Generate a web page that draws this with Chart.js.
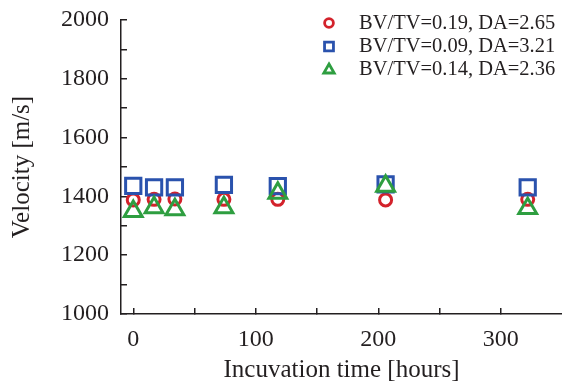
<!DOCTYPE html>
<html lang="en">
<head>
    <meta charset="UTF-8">
    <title>Velocity vs incubation time</title>
    <script src="https://cdn.jsdelivr.net/npm/chart.js"></script>
    <style>
        html, body { margin: 0; padding: 0; background: #fff; overflow: hidden; }
        #wrap { position: relative; width: 562px; height: 383px; }
        #chart { display: block; }
    </style>
</head>
<body>
    <div id="wrap"><canvas id="chart"></canvas></div>

    <script>
        // incubation times [hours]
        const hours = [0, 17, 34, 74, 118, 206, 322];
        const seriesLabels = ['BV/TV=0.19, DA=2.65', 'BV/TV=0.09, DA=3.21', 'BV/TV=0.14, DA=2.36'];
        // velocity [m/s]
        const redVel = [1388, 1390, 1391, 1390, 1390, 1388, 1390];
        const blueVel = [1436, 1431, 1431, 1439, 1435, 1441, 1431];
        const greenVel = [1349, 1362, 1355, 1362, 1411, 1435, 1359];
        // tick marks (every one) and the ones that carry a label
        const xTickMarks = [0, 50, 100, 150, 200, 250, 300];
        const xTicks = [0, 100, 200, 300];
        const yTickMarks = [1000, 1100, 1200, 1300, 1400, 1500, 1600, 1700, 1800, 1900, 2000];
        const yTicks = [1000, 1200, 1400, 1600, 1800, 2000];

        const ink = '#231f20';
        const serif = "'Liberation Serif', 'Times New Roman', serif";

        const toPoints = vals => hours.map((h, i) => ({ x: h, y: vals[i] }));

        // legend drawn in the top right of the plot, like the original figure
        const cornerLegend = {
            id: 'cornerLegend',
            afterDraw(chart) {
                const ctx = chart.ctx;
                const markerY = [23, 46.5, 70];
                ctx.save();
                ctx.font = '20.5px ' + serif;
                ctx.textBaseline = 'middle';
                chart.data.datasets.forEach((ds, i) => {
                    const y = 23 + i * 22.7;
                    ctx.strokeStyle = ds.borderColor;
                    ctx.fillStyle = 'rgba(0,0,0,0)';
                    ctx.lineWidth = 2.8;
                    Chart.helpers.drawPoint(ctx, {
                        pointStyle: ds.pointStyle,
                        radius: ds.pointStyle === 'circle' ? 4.4 : (ds.pointStyle === 'rect' ? 6.3 : 6),
                        borderWidth: 2.8
                    }, 329, markerY[i]);
                    ctx.fillStyle = ink;
                    ctx.fillText(ds.label, 359, y + 1);
                });
                ctx.restore();
            }
        };

        new Chart(document.getElementById('chart'), {
            type: 'scatter',
            data: {
                datasets: [
                    {
                        label: seriesLabels[0],
                        data: toPoints(redVel),
                        pointStyle: 'circle',
                        pointRadius: 6,
                        borderColor: '#d3222b',
                        backgroundColor: 'rgba(0,0,0,0)',
                        pointBorderWidth: 3,
                        order: 3
                    },
                    {
                        label: seriesLabels[1],
                        data: toPoints(blueVel),
                        pointStyle: 'rect',
                        pointRadius: 10.8,
                        borderColor: '#2a52ad',
                        backgroundColor: 'rgba(0,0,0,0)',
                        pointBorderWidth: 3,
                        order: 2
                    },
                    {
                        label: seriesLabels[2],
                        data: toPoints(greenVel),
                        pointStyle: 'triangle',
                        pointRadius: 10.3,
                        borderColor: '#2e9e40',
                        backgroundColor: 'rgba(0,0,0,0)',
                        pointBorderWidth: 3,
                        order: 1
                    }
                ]
            },
            options: {
                responsive: true,
                maintainAspectRatio: false,
                animation: false,
                layout: { autoPadding: false, padding: { top: 20, right: 0, bottom: 0, left: 0 } },
                plugins: {
                    legend: { display: false },
                    tooltip: { enabled: false }
                },
                scales: {
                    x: {
                        type: 'linear',
                        min: -10,
                        max: 350,
                        afterFit(scale) {
                            scale.height = 69;
                            scale.paddingLeft = 0;
                            scale.paddingRight = 0;
                        },
                        afterBuildTicks(scale) {
                            scale.ticks = xTickMarks.map(v => ({ value: v }));
                        },
                        ticks: {
                            autoSkip: false,
                            padding: 17,
                            color: ink,
                            font: { family: serif, size: 24 },
                            callback: v => xTicks.includes(v) ? String(v) : ''
                        },
                        grid: { drawOnChartArea: false, tickLength: -6, color: ink, lineWidth: 1.5 },
                        border: { color: ink, width: 1.5 },
                        title: {
                            display: true,
                            text: 'Incuvation time [hours]',
                            color: ink,
                            font: { family: serif, size: 25 },
                            padding: { top: 0, bottom: -2 }
                        }
                    },
                    y: {
                        min: 1000,
                        max: 2000,
                        afterFit(scale) {
                            scale.width = 121;
                            scale.paddingTop = 0;
                            scale.paddingBottom = 0;
                        },
                        afterBuildTicks(scale) {
                            scale.ticks = yTickMarks.map(v => ({ value: v }));
                        },
                        ticks: {
                            autoSkip: false,
                            padding: 18,
                            color: ink,
                            font: { family: serif, size: 24 },
                            callback: v => yTicks.includes(v) ? String(v) : ''
                        },
                        grid: { drawOnChartArea: false, tickLength: -6, color: ink, lineWidth: 1.5 },
                        border: { color: ink, width: 1.5 },
                        title: {
                            display: true,
                            text: 'Velocity [m/s]',
                            color: ink,
                            font: { family: serif, size: 25 },
                            padding: { top: 7.5, bottom: 0 }
                        }
                    }
                }
            },
            plugins: [cornerLegend]
        });
    </script>
</body>
</html>
